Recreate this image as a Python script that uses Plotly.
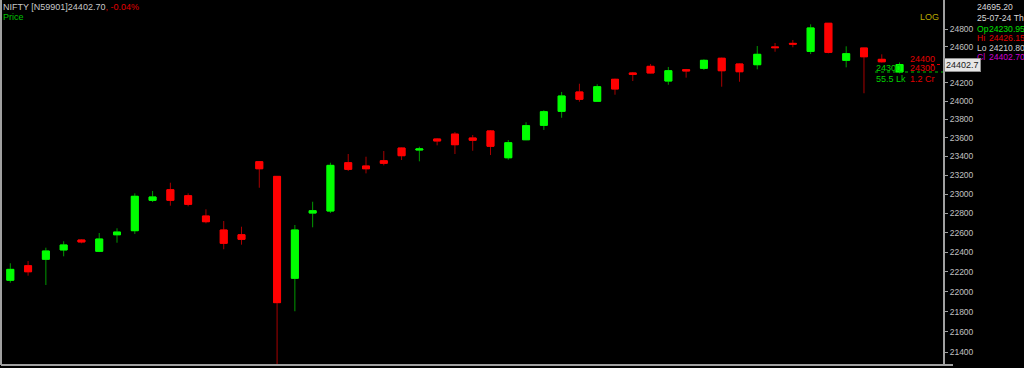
import plotly.graph_objects as go
import math

# ---------------- data (NIFTY daily) ----------------
dates = ["14-05-24", "15-05-24", "16-05-24", "17-05-24", "18-05-24", "21-05-24", "22-05-24",
         "23-05-24", "24-05-24", "27-05-24", "28-05-24", "29-05-24", "30-05-24", "31-05-24",
         "03-06-24", "04-06-24", "05-06-24", "06-06-24", "07-06-24", "10-06-24", "11-06-24",
         "12-06-24", "13-06-24", "14-06-24", "18-06-24", "19-06-24", "20-06-24", "21-06-24",
         "24-06-24", "25-06-24", "26-06-24", "27-06-24", "28-06-24", "01-07-24", "02-07-24",
         "03-07-24", "04-07-24", "05-07-24", "08-07-24", "09-07-24", "10-07-24", "11-07-24",
         "12-07-24", "15-07-24", "16-07-24", "18-07-24", "19-07-24", "22-07-24", "23-07-24",
         "24-07-24", "25-07-24"]
open_ = [22114, 22261, 22327, 22422, 22524, 22408, 22578, 22620, 22936, 23047, 22984, 22772,
         22627, 22578, 23344, 23188, 22134, 22803, 22824, 23333, 23298, 23354, 23490, 23469,
         23587, 23640, 23598, 23674, 23386, 23579, 23735, 23887, 24099, 23997, 24239, 24309,
         24383, 24220, 24346, 24361, 24473, 24409, 24401, 24600, 24640, 24550, 24867, 24450,
         24588, 24461, 24320]
high = [22286, 22309, 22445, 22511, 22531, 22596, 22645, 23009, 23034, 23121, 23009, 22842,
        22720, 22661, 23350, 23192, 22679, 22921, 23333, 23426, 23397, 23458, 23495, 23504,
        23595, 23662, 23630, 23684, 23576, 23768, 23899, 24099, 24190, 24184, 24246, 24320,
        24409, 24376, 24354, 24461, 24480, 24415, 24610, 24644, 24678, 24855, 24870, 24607,
        24590, 24517, 24426]
low = [22089, 22160, 22066, 22357, 22490, 22400, 22496, 22586, 22918, 22880, 22873, 22696,
       22429, 22476, 23068, 21284, 21803, 22655, 22803, 23245, 23220, 23305, 23362, 23348,
       23519, 23426, 23461, 23415, 23365, 23575, 23685, 23817, 23992, 23993, 24069, 24220,
       24305, 24179, 24257, 24343, 24157, 24212, 24350, 24546, 24596, 24520, 24528, 24372,
       24085, 24425, 24305]
close = [22224, 22200, 22411, 22473, 22504, 22534, 22606, 22978, 22971, 22936, 22894, 22713,
         22490, 22531, 23269, 21889, 22627, 22827, 23305, 23263, 23269, 23327, 23408, 23480,
         23566, 23526, 23574, 23509, 23547, 23731, 23883, 24055, 24019, 24157, 24132, 24294,
         24309, 24334, 24332, 24450, 24334, 24323, 24517, 24592, 24632, 24814, 24539, 24524,
         24490, 24434, 24403]

tick_vals = [21400, 21600, 21800, 22000, 22200, 22400, 22600, 22800, 23000, 23200, 23400,
             23600, 23800, 24000, 24200, 24400, 24600, 24800]
tick_text = [str(v) for v in tick_vals]

symbol_text = "NIFTY [N59901]24402.70"
change_text = ", -0.04%"
last_price = 24402.7
info_top = "24695.20"
info_date = "25-07-24 Th"
info_ohlc = [("Op", "24230.95", "#00e000"), ("Hi", "24426.15", "#e00000"),
             ("Lo", "24210.80", "#d0d0d0"), ("Cl", "24402.70", "#d000d0")]
oi_left = ["24300", "55.5 Lk"]
oi_right = ["24400", "24300", "1.2 Cr"]

# ---------------- layout geometry ----------------
W, H = 1024, 368
ML, MR, MT, MB = 1, 81, 0, 3
PW, PH = W - ML - MR, H - MT - MB
FONT = "Liberation Sans"


def px(x):
    return (x - ML) / PW


def py(y):
    return (PH + MT - y) / PH


body_hi = [max(o, c) for o, c in zip(open_, close)]
body_lo = [min(o, c) for o, c in zip(open_, close)]

fig = go.Figure()
# wicks (darker)
fig.add_trace(go.Candlestick(
    x=dates, open=open_, high=high, low=low, close=close,
    increasing=dict(line=dict(color="#009a00", width=1), fillcolor="#00ff00"),
    decreasing=dict(line=dict(color="#a80000", width=1), fillcolor="#ff0000"),
    hoverinfo="skip", showlegend=False))
# bright bodies on top
fig.add_trace(go.Candlestick(
    x=dates, open=open_, high=body_hi, low=body_lo, close=close,
    increasing=dict(line=dict(color="#00ff00", width=1), fillcolor="#00ff00"),
    decreasing=dict(line=dict(color="#ff0000", width=1), fillcolor="#ff0000"),
    hoverinfo="skip", showlegend=False))

y_top = 24000 * math.exp(101 / 2190)
y_bot = y_top * math.exp(-PH / 2190)

x0 = (ML - 10.3) / 17.785
x1 = (ML + PW - 10.3) / 17.785

fig.update_layout(
    width=W, height=H,
    margin=dict(l=ML, r=MR, t=MT, b=MB),
    paper_bgcolor="#000000", plot_bgcolor="#000000",
    boxgap=0.44,
    showlegend=False,
    hovermode=False,
    font=dict(family=FONT, size=9, color="#c8c8c8"),
    xaxis=dict(type="category", range=[x0, x1], rangeslider=dict(visible=False),
               showgrid=False, zeroline=False, showticklabels=False, ticks="",
               showline=False),
    yaxis=dict(type="log", side="right", range=[math.log10(y_bot), math.log10(y_top)],
               tickvals=tick_vals, ticktext=tick_text, showgrid=False, zeroline=False,
               ticks="outside", ticklen=3, tickcolor="#a0a0a0", tickwidth=1,
               showline=True, linecolor="#a0a0a0", linewidth=2,
               tickfont=dict(family=FONT, size=8.5, color="#c0c0c0")),
)

# frame lines (left and bottom)
fig.add_shape(type="line", xref="paper", yref="paper", x0=0, x1=0, y0=0, y1=1,
              line=dict(color="#a0a0a0", width=2))
fig.add_shape(type="line", xref="paper", yref="paper", x0=0, x1=1 + 10 / PW, y0=0, y1=0,
              line=dict(color="#a0a0a0", width=2))

# dotted level lines near last candle
fig.add_shape(type="line", xref="paper", yref="paper", x0=px(875), x1=1, y0=py(72), y1=py(72),
              line=dict(color="#00c000", width=1, dash="dot"))
fig.add_shape(type="line", xref="paper", yref="paper", x0=px(931), x1=1, y0=py(64.5), y1=py(64.5),
              line=dict(color="#e00000", width=1, dash="dot"))


def label(text, x, y, color, size=9, xanchor="left", **kw):
    fig.add_annotation(text=text, xref="paper", yref="paper", x=px(x), y=py(y),
                       xanchor=xanchor, yanchor="middle", showarrow=False,
                       font=dict(family=FONT, size=size, color=color), **kw)


# header
label(symbol_text + "<span style='color:#e00000'>" + change_text + "</span>", 1, 7, "#c8c8c8")
label("Price", 1, 17.5, "#00c000")
label("LOG", 941, 17.5, "#b8a800", xanchor="right")

# info panel
label(info_top, 975, 7.5, "#d8d8d8", size=8.6)
label(info_date, 975, 18.5, "#d8d8d8", size=8.6)
for i, (k, v, col) in enumerate(info_ohlc):
    yy = [29.3, 38.5, 47.7, 57][i]
    label(k, 975, yy, col, size=8.6)
    label(v, 987, yy, col, size=8.6)

# OI labels
label(oi_left[0], 874, 67.7, "#00d000")
label(oi_left[1], 874, 79, "#00d000")
label(oi_right[0], 908, 59.3, "#e00000")
label(oi_right[1], 908, 67.7, "#e00000")
label(oi_right[2], 908, 79, "#e00000")

# last price box on axis
fig.add_annotation(text=f"{last_price:.1f}", xref="paper", yref="y", x=px(944),
                   y=math.log10(last_price), xanchor="left", yanchor="middle", showarrow=False,
                   bgcolor="#e6e6e6", bordercolor="#909090", borderwidth=1, borderpad=1,
                   font=dict(family=FONT, size=9, color="#202020"))

fig.write_html("out.html")
